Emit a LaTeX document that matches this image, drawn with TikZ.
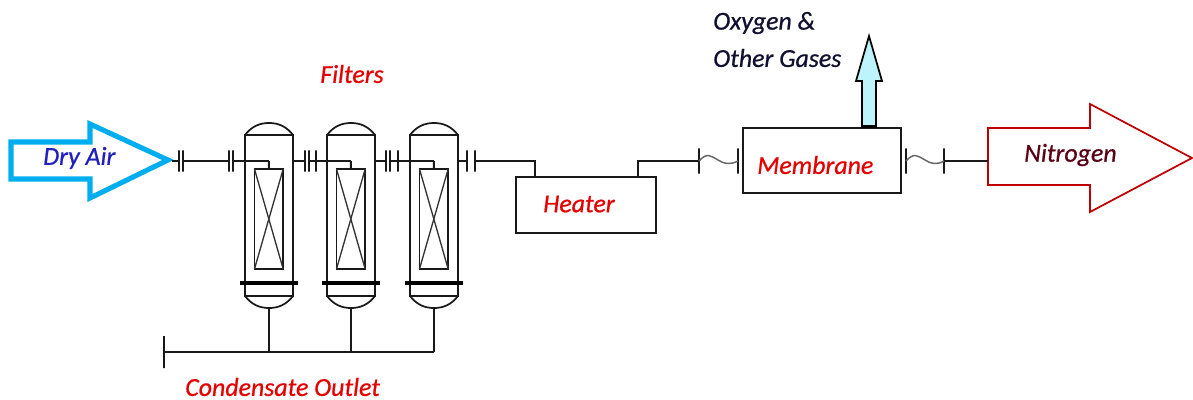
\documentclass[tikz,border=0pt]{standalone}
\usepackage{fontspec}
\setmainfont{Carlito}[ItalicFeatures={FakeBold=0.7}]
\begin{document}
\begin{tikzpicture}[x=0.75pt,y=-0.75pt,
  pipe/.style={draw=black!90,line width=1.5pt},
  box/.style={draw=black!90,line width=1.4pt,rectangle,inner sep=0pt,outer sep=0pt,anchor=north west,fill=none},
  flange/.style={draw=black!90,line width=1.4pt,rectangle,inner sep=0pt,outer sep=0pt,minimum width=0pt,minimum height=16pt},
  lbl/.style={font=\itshape\fontsize{19.4}{21}\selectfont,inner sep=0pt,anchor=west},
  wave/.style={draw=black!60,line width=1.1pt}]
\useasboundingbox (0,0) rectangle (1193,400);
\definecolor{airblue}{HTML}{00AEEF}
\definecolor{pale}{HTML}{BDF3FB}
\definecolor{nitro}{HTML}{C00000}
\definecolor{airtext}{HTML}{2020C0}
\definecolor{maroon}{HTML}{5A0014}
\definecolor{navy}{HTML}{101030}

% Dry air arrow
\draw[airblue,line width=3.8pt,miter limit=10] (11,142) -- (90,142) -- (90,124) -- (168,160) -- (90,198) -- (90,179) -- (11,179) -- cycle;
\coordinate (airtip) at (172,161);
\node[lbl,text=airtext] (dry) at (43,158) {Dry Air};

% Vessels
\foreach \n/\c in {1/269,2/351,3/434}{
  \node[box,minimum width=36pt,minimum height=120.5pt] (v\n) at (\c-24,135) {};
  \node[box,minimum width=21.5pt,minimum height=75pt] (core\n) at (\c-14.5,169) {};
  \draw[draw=black!90,line width=1.3pt] (\c-24,135) .. controls (\c-17,126) and (\c-9,123) .. (\c,123) .. controls (\c+9,123) and (\c+17,126) .. (\c+24,135);
  \draw[draw=black!90,line width=1.3pt] (\c-24,296) .. controls (\c-17,305) and (\c-9,308) .. (\c,308) .. controls (\c+9,308) and (\c+17,305) .. (\c+24,296);
  \draw[draw=black!80,line width=1pt] (core\n.north west) -- (core\n.south east);
  \draw[draw=black!80,line width=1pt] (core\n.north east) -- (core\n.south west);
  \draw[black,line width=3.4pt] (\c-29,283) -- (\c+29,283);
  \coordinate (top\n) at (\c,161);
  \coordinate (vin\n) at (\c-24,161);
  \coordinate (vout\n) at (\c+24,161);
  \coordinate (drain\n) at (\c,308);
  \coordinate (hdr\n) at (\c,352);
  \draw[pipe] (top\n) -- (core\n.north);
  \draw[pipe] (drain\n) -- (hdr\n);
}

% Flanges
\foreach \nm/\x in {a1/179,a2/183,b1/229,b2/233,c1/305,c2/309,c3/316,d1/386,d2/390,d3/398,e1/467,e2/475}{
  \node[flange] (\nm) at (\x,161) {};
}
\draw[pipe] (airtip) -- (a1);
\draw[pipe] (a2) -- (b1);
\draw[pipe] (b2) -- (top1);
\draw[pipe] (vout1) -- (c1);
\draw[pipe] (c2) -- (c3);
\draw[pipe] (c3) -- (top2);
\draw[pipe] (vout2) -- (d1);
\draw[pipe] (d2) -- (d3);
\draw[pipe] (d3) -- (top3);
\draw[pipe] (vout3) -- (e1);

% Condensate header
\node[flange,minimum height=24pt] (hdrend) at (164,352) {};
\draw[pipe] (hdrend) -- (hdr1) -- (hdr2) -- (hdr3);

% Heater
\node[box,minimum width=105pt,minimum height=42pt] (heater) at (516,177) {};
\coordinate (hin) at (535,177);
\coordinate (hout) at (638,177);
\draw[pipe] (e2) -| (hin);
\node[flange,minimum height=19pt] (w1) at (699,161) {};
\node[flange,minimum height=19pt] (w2) at (738,161) {};
\draw[pipe] (hout) |- (w1);
\draw[wave] (w1) .. controls (707,152) and (711,156) .. (718,160) .. controls (724,164) and (730,165) .. (w2);

% Membrane
\node[box,minimum width=118.5pt,minimum height=49pt] (membrane) at (743,128) {};
\node[flange,minimum height=19pt] (w3) at (906,161) {};
\node[flange,minimum height=19pt] (w4) at (944,161) {};
\draw[wave] (w3) .. controls (914,152) and (918,156) .. (925,160) .. controls (931,164) and (937,165) .. (w4);

% Oxygen arrow
\draw[draw=black,fill=pale,line width=1.3pt,miter limit=10] (862,127) -- (862,81) -- (856,81) -- (869,36) -- (882,81) -- (876,81) -- (876,127) -- cycle;
\draw[black,line width=2.4pt] (862,126.5) -- (876,126.5);

% Nitrogen arrow
\draw[nitro,line width=1.3pt,miter limit=10] (988,128) -- (1090,128) -- (1090,104) -- (1192,158) -- (1090,212) -- (1090,185) -- (988,185) -- cycle;
\coordinate (nin) at (988,161);
\draw[pipe] (w4) -- (nin);

% Labels
\node[lbl,text=red!90!black] (filters) at (320,74) {Filters};
\node[lbl,text=navy] (oxy) at (713,23) {Oxygen \&};
\node[lbl,text=navy] (gases) at (713,58) {Other Gases};
\node[lbl,text=red!90!black] (heatlbl) at (543,204) {Heater};
\node[lbl,text=red!90!black] (memlbl) at (757,165) {Membrane};
\node[lbl,text=maroon] (nitlbl) at (1024,155) {Nitrogen};
\node[lbl,text=red!90!black] (condlbl) at (185,387) {Condensate Outlet};
\end{tikzpicture}
\end{document}
